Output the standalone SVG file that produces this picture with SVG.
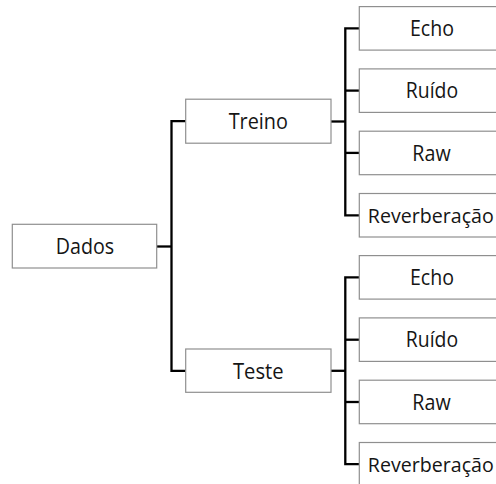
<svg xmlns="http://www.w3.org/2000/svg" width="496" height="484" viewBox="0 0 496 484">
  <style>
    .box { fill: #ffffff; stroke: #8f8f8f; stroke-width: 1.2; }
    .lbl { font-family: "Open Sans", "Liberation Sans", sans-serif; font-size: 21px; fill: #151515; text-anchor: middle; }
    .long { font-size: 20px; }
    .wire { fill: none; stroke: #000000; stroke-width: 2.3; }
  </style>

  <!-- connectors -->
  <g id="connectors">
    <!-- root to level 1 -->
    <path class="wire" d="M157 246.5 H171.5"/>
    <path class="wire" d="M185.7 121.2 H171.5 V370.8 H185.7"/>
    <!-- Treino to leaves -->
    <path class="wire" d="M331 121.5 H345.3"/>
    <path class="wire" d="M359.3 28.3 H345.3 V215.3 H359.3"/>
    <path class="wire" d="M345.3 90.6 H359.3"/>
    <path class="wire" d="M345.3 152.9 H359.3"/>
    <!-- Teste to leaves -->
    <path class="wire" d="M331 370.8 H345.3"/>
    <path class="wire" d="M359.3 277.4 H345.3 V464.2 H359.3"/>
    <path class="wire" d="M345.3 339.7 H359.3"/>
    <path class="wire" d="M345.3 402 H359.3"/>
  </g>

  <g id="dados">
    <rect class="box" x="12.3" y="224.3" width="144.4" height="43.7"/>
    <text class="lbl" x="84.9" y="254.3" textLength="58.3" lengthAdjust="spacingAndGlyphs">Dados</text>
  </g>

  <g id="treino">
    <rect class="box" x="185.7" y="99.2" width="145.3" height="44"/>
    <text class="lbl" x="258.3" y="129" textLength="59.3" lengthAdjust="spacingAndGlyphs">Treino</text>
  </g>

  <g id="teste">
    <rect class="box" x="185.7" y="349" width="145.3" height="43.3"/>
    <text class="lbl" x="258.3" y="378.5" textLength="50.7" lengthAdjust="spacingAndGlyphs">Teste</text>
  </g>

  <!-- Treino leaves -->
  <g id="treino-echo">
    <rect class="box" x="359.3" y="6.6" width="145" height="43.5"/>
    <text class="lbl" x="432" y="36" textLength="44" lengthAdjust="spacingAndGlyphs">Echo</text>
  </g>
  <g id="treino-ruido">
    <rect class="box" x="359.3" y="68.9" width="145" height="43.5"/>
    <text class="lbl" x="432" y="98.3" textLength="52.3" lengthAdjust="spacingAndGlyphs">Ruído</text>
  </g>
  <g id="treino-raw">
    <rect class="box" x="359.3" y="131.2" width="145" height="43.5"/>
    <text class="lbl" x="431.5" y="160.6" textLength="38.3" lengthAdjust="spacingAndGlyphs">Raw</text>
  </g>
  <g id="treino-reverberacao">
    <rect class="box" x="359.3" y="193.5" width="145" height="43.5"/>
    <text class="lbl long" x="430.8" y="223.3" textLength="126" lengthAdjust="spacingAndGlyphs">Reverberação</text>
  </g>

  <!-- Teste leaves -->
  <g id="teste-echo">
    <rect class="box" x="359.3" y="255.6" width="145" height="43.5"/>
    <text class="lbl" x="432" y="285" textLength="44" lengthAdjust="spacingAndGlyphs">Echo</text>
  </g>
  <g id="teste-ruido">
    <rect class="box" x="359.3" y="317.9" width="145" height="43.5"/>
    <text class="lbl" x="432" y="347.3" textLength="52.3" lengthAdjust="spacingAndGlyphs">Ruído</text>
  </g>
  <g id="teste-raw">
    <rect class="box" x="359.3" y="380.2" width="145" height="43.5"/>
    <text class="lbl" x="431.5" y="409.6" textLength="38.3" lengthAdjust="spacingAndGlyphs">Raw</text>
  </g>
  <g id="teste-reverberacao">
    <rect class="box" x="359.3" y="442.5" width="145" height="43.5"/>
    <text class="lbl long" x="430.8" y="472.3" textLength="126" lengthAdjust="spacingAndGlyphs">Reverberação</text>
  </g>
</svg>
